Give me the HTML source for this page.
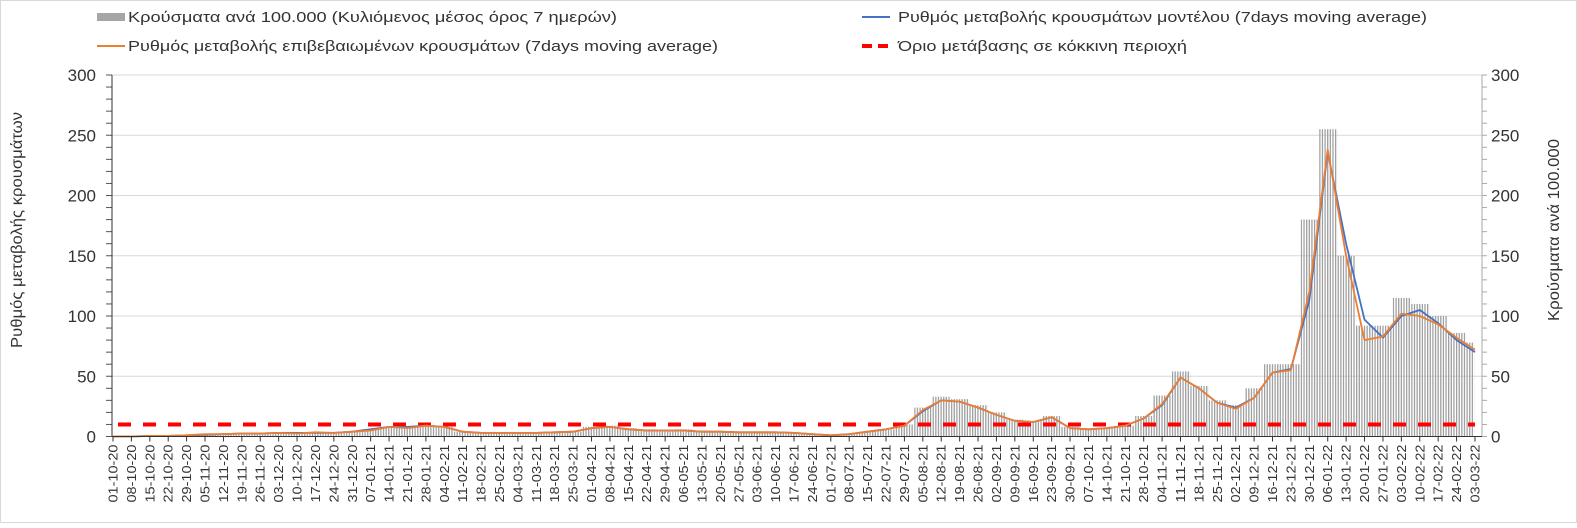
<!DOCTYPE html>
<html><head><meta charset="utf-8"><style>
body{margin:0;background:#fff}
svg text{font-family:"Liberation Sans",sans-serif}
</style></head><body>
<svg id="chart" width="1577" height="523" xmlns="http://www.w3.org/2000/svg">
<defs><pattern id="stripes" patternUnits="userSpaceOnUse" x="112" y="0" width="2.63" height="10"><rect x="0" y="0" width="1.3" height="10" fill="#a0a0a0"/></pattern></defs>
<rect x="0.5" y="0.5" width="1576" height="522" fill="#fff" stroke="#d9d9d9"/>
<g id="grid"></g><g id="bars"></g><g id="lines"></g><g id="axes"></g>
<g font-size="15" fill="#333">
<rect x="97" y="13" width="28" height="8" fill="#a6a6a6"/>
<text x="128" y="22" textLength="489" lengthAdjust="spacingAndGlyphs">Κρούσματα ανά 100.000 (Κυλιόμενος μέσος όρος 7 ημερών)</text>
<line x1="862" y1="17" x2="890" y2="17" stroke="#4472c4" stroke-width="2"/>
<text x="898" y="22" textLength="529" lengthAdjust="spacingAndGlyphs">Ρυθμός μεταβολής κρουσμάτων μοντέλου (7days moving average)</text>
<line x1="97" y1="46" x2="125" y2="46" stroke="#ed7d31" stroke-width="2"/>
<text x="128" y="51" textLength="590" lengthAdjust="spacingAndGlyphs">Ρυθμός μεταβολής επιβεβαιωμένων κρουσμάτων (7days moving average)</text>
<line x1="862" y1="46" x2="890" y2="46" stroke="#ff0000" stroke-width="4" stroke-dasharray="10,6"/>
<text x="898" y="51" textLength="289" lengthAdjust="spacingAndGlyphs">Όριο μετάβασης σε κόκκινη περιοχή</text>
</g>
<text transform="translate(22,230) rotate(-90)" text-anchor="middle" font-size="16" fill="#333" textLength="236" lengthAdjust="spacingAndGlyphs">Ρυθμός μεταβολής κρουσμάτων</text>
<text transform="translate(1559,230) rotate(-90)" text-anchor="middle" font-size="16" fill="#333" textLength="182" lengthAdjust="spacingAndGlyphs">Κρούσματα ανά 100.000</text>
</svg>
<script>
const weekLabels=["01-10-20","08-10-20","15-10-20","22-10-20","29-10-20","05-11-20","12-11-20","19-11-20","26-11-20","03-12-20","10-12-20","17-12-20","24-12-20","31-12-20","07-01-21","14-01-21","21-01-21","28-01-21","04-02-21","11-02-21","18-02-21","25-02-21","04-03-21","11-03-21","18-03-21","25-03-21","01-04-21","08-04-21","15-04-21","22-04-21","29-04-21","06-05-21","13-05-21","20-05-21","27-05-21","03-06-21","10-06-21","17-06-21","24-06-21","01-07-21","08-07-21","15-07-21","22-07-21","29-07-21","05-08-21","12-08-21","19-08-21","26-08-21","02-09-21","09-09-21","16-09-21","23-09-21","30-09-21","07-10-21","14-10-21","21-10-21","28-10-21","04-11-21","11-11-21","18-11-21","25-11-21","02-12-21","09-12-21","16-12-21","23-12-21","30-12-21","06-01-22","13-01-22","20-01-22","27-01-22","03-02-22","10-02-22","17-02-22","24-02-22","03-03-22"];
const cases=[0.5,0.5,1,1,1.5,2,2.5,3,3,3.5,3,3.5,3,4,6,8,8,9,8,4,3,3,3,3,4,4,8,9,7,6,5,6,5,4,4,4,4,3,2,1,2,4,6,10,24,33,31,26,20,14,13,17,8,6,7,9,17,34,54,42,30,26,40,60,60,180,255,150,92,92,115,110,100,86,78];
const model=[0,0,0.5,0.5,1,1.5,2,2.5,2.5,3,3,3,3,4,6,8,8,9,8,4,3,3,3,3,3.5,4,7,8,6,5,5,5,4,4,3.5,3.5,3.5,3,2,1,2,4,6,9,21,30,29,24,18,13,12,16,7,6,7,9,15,26,49,40,28,24,32,53,56,113,236,160,97,82,100,105,94,80,70];
const confirmed=[0,0,0.5,0.5,1,2,2,2.5,2.5,3,2.5,3.5,3,4,5,8,7,9,8,4,3,3,3,3,3.5,4,7,8,6,5,5,5,4,4,3.5,3.5,3.5,3,2,1,2,4,6,9,22,30,29,24,18,13,12,16,7,6,7,9,15,27,49,40,28,23,32,53,55,120,238,150,80,83,102,100,93,82,72];
const leftTicks=[0,50,100,150,200,250,300];
const threshold=10;
const NS="http://www.w3.org/2000/svg";
const X0=113,DX=2.6293,Y0=436.5,YS=1.205;
const xDay=d=>X0+d*DX, y=v=>Y0-v*YS;
function mk(tag,attrs,parent){const e=document.createElementNS(NS,tag);for(const k in attrs)e.setAttribute(k,attrs[k]);parent.appendChild(e);return e;}
const grid=document.getElementById('grid'),bars=document.getElementById('bars'),lines=document.getElementById('lines'),axes=document.getElementById('axes');
leftTicks.forEach(t=>{
 if(t>0){const g=mk('line',{x1:112,x2:1482,y1:y(t),y2:y(t),stroke:'#d9d9d9'},grid);
 
 }
 const l=mk('text',{x:96,y:y(t)+6,'text-anchor':'end','font-size':17,fill:'#333'},axes);l.textContent=t;
 
 
 const r=mk('text',{x:1491,y:y(t)+6,'font-size':17,fill:'#333'},axes);r.textContent=t;
 
 
});
for(let v=0;v<=300;v+=10){mk('line',{x1:106,x2:112,y1:y(v),y2:y(v),stroke:'#555'},axes);mk('line',{x1:1482,x2:1487,y1:y(v),y2:y(v),stroke:'#aaa'},axes);}
cases.forEach((v,i)=>{
 const d0=Math.max(0,i*7-3),d1=Math.min(518,i*7+4);
 const r=mk('rect',{x:xDay(d0)-0.7,y:y(v),width:xDay(d1)-xDay(d0),height:Y0-y(v),fill:'url(#stripes)'},bars);
 
 
});
const thr=mk('line',{x1:xDay(0)+5,x2:xDay(518),y1:y(threshold),y2:y(threshold),stroke:'#ff0000','stroke-width':4,'stroke-dasharray':'13,12'},lines);


function path(arr,color,name){
 const d=arr.map((v,i)=>(i?'L':'M')+xDay(i*7).toFixed(1)+','+y(v).toFixed(1)).join('');
 const p=mk('path',{d:d,fill:'none',stroke:color,'stroke-width':1.8,'stroke-linejoin':'round'},lines);
 
 
}
path(model,'#4472c4','model-line');
path(confirmed,'#ed7d31','confirmed-line');
mk('line',{x1:112,x2:112,y1:75,y2:Y0,stroke:'#333'},axes);
mk('line',{x1:1482,x2:1482,y1:75,y2:Y0,stroke:'#aaa'},axes);
mk('line',{x1:112,x2:1482,y1:Y0,y2:Y0,stroke:'#333'},axes);
weekLabels.forEach((lab,i)=>{
 const x=xDay(i*7);
 mk('line',{x1:x,x2:x,y1:Y0,y2:Y0+5,stroke:'#333'},axes);
 const t=mk('text',{transform:`translate(${x+4.5},${Y0+8}) rotate(-90)`,'text-anchor':'end','font-size':12.5,fill:'#333',textLength:58,lengthAdjust:'spacingAndGlyphs'},axes);
 t.textContent=lab;
 
 
});
</script>
</body></html>
